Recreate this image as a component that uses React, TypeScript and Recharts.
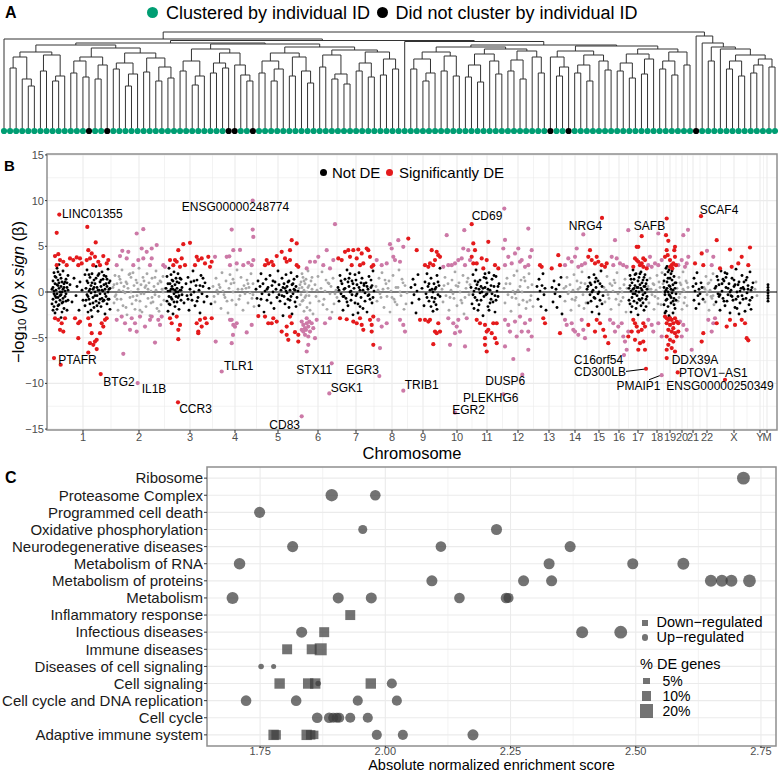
import React from 'react';
import {
  ComposedChart,
  ScatterChart,
  Scatter,
  Line,
  XAxis,
  YAxis,
  CartesianGrid,
  ReferenceLine,
  ReferenceArea,
} from 'recharts';

const FONT = "'Liberation Sans', Arial, Helvetica, sans-serif";
const GREEN = '#009e73';
const RED = '#e41a1c';
const PINK = '#cc79a7';
const GREY = '#a8a8a8';
const BORDER = '#8f8f8f';
const GRID = '#ebebeb';
const POINT = '#3d3d3d';

// ---------- A: hierarchical clustering (node = [merge height, left, right], leaf g = clustered, k = not) ----------
type Node = 'g' | 'k' | [number, Node, Node];
const g = 'g';
const k = 'k';

const cluster3a: Node = [86,
  [79, [74, [63, g, g], [52, g, [45, g, g]]], [76, [60, g, g], [55, [50, g, g], g]]],
  [83, [74, [70, [58, g, g], [54, g, k]], [66, [52, g, g], k]],
    [78, [68, [62, g, g], [57, [45, g, g], g]], [73, [59, g, g], [64, [50, g, g], [53, g, g]]]]]];
const cluster3b: Node = [87,
  [82, [70, [60, g, g], [55, [46, g, g], g]], [78, [68, [58, g, g], [63, g, k]], [66, k, [56, g, [50, g, k]]]]],
  [84, [78, [70, [58, g, g], [62, [50, g, g], g]], [74, [55, g, g], [60, g, [48, g, g]]]],
    [81, [76, [64, g, g], [57, [52, g, g], [47, g, g]]], [79, [68, [60, g, g], [54, g, g]], [72, [56, g, g], [62, g, g]]]]]];
const cluster6: Node = [84,
  [79, [72, [62, g, g], [58, [50, g, g], g]], [75, [60, g, g], [55, g, g]]],
  [82, [77, [66, [54, g, g], [49, g, g]], [70, g, [57, g, g]]], [80, [71, [60, g, g], [52, g, g]], [74, g, [58, g, g]]]]];
const cluster7: Node = [85,
  [80, [74, k, [64, [55, g, g], k]], [76, [66, [58, g, g], [50, g, g]], [70, g, [61, g, g]]]],
  [82, [77, [68, [60, g, g], [53, g, g]], [72, [57, g, g], g]], [79, [70, [62, g, g], [56, g, g]], [66, g, g]]]];
const clusterR: Node = [88, g,
  [84, [70, g, g], [82, g, [76, [70, [62, g, g], [55, g, g]], [72, [66, [58, g, g], g], [64, g, g]]]]]];
const dendrogram: Node = [99,
  [92, g, [90.5, [88, cluster3a, cluster3b], [89.5, g, [86, cluster6, cluster7]]]],
  [95, k, clusterR]];

function layoutDendrogram(root: Node) {
  const links: { x: number; y: number | null }[] = [];
  const leaves: { x: number; y: number; black: boolean }[] = [];
  const walk = (n: Node): { x: number; h: number } => {
    if (!Array.isArray(n)) {
      const i = leaves.length;
      leaves.push({ x: i, y: 0, black: n === 'k' });
      return { x: i, h: 0 };
    }
    const [h, a, b] = n;
    const l = walk(a);
    const r = walk(b);
    links.push({ x: l.x, y: l.h }, { x: l.x, y: h }, { x: r.x, y: h }, { x: r.x, y: r.h }, { x: r.x, y: null });
    return { x: (l.x + r.x) / 2, h };
  };
  walk(root);
  return { links, leaves };
}

// ---------- B: Manhattan plot (x = genome position index, y = -log10(p) * sign(beta)) ----------
const chrLabels = ['1', '2', '3', '4', '5', '6', '7', '8', '9', '10', '11', '12', '13', '14', '15', '16', '17', '18', '19', '20', '21', '22', 'X', 'Y', 'M'];
const chrCenters = [36, 92, 143, 188, 231, 271, 309, 345, 376, 410, 440, 471, 502, 528, 552, 572, 591, 610, 623, 635, 646, 660, 687, 713, 720];

// not DE, odd chromosomes (black)
const blackNotDE = [
  5,0.3, 6,-0.8, 6,1.2, 7,0.1, 7,-1.6, 7,2.1, 8,-0.4, 8,0.9, 8,-2.3, 9,1.6, 9,-1.1, 9,0.2, 10,-0.2, 10,2.6, 10,-1.9, 11,0.7, 11,-0.6, 11,1.3, 12,-1.4, 12,0.4, 12,3.0, 13,-0.9, 13,1.9, 13,0.0, 14,-2.8, 14,0.6, 14,-0.3, 15,1.1, 15,-1.2, 16,0.3, 16,2.3, 16,-0.7, 17,-1.8, 17,0.9, 18,0.1, 18,-0.5, 19,1.4, 19,-1.0, 20,0.5, 20,-2.0, 21,0.2, 21,1.8,
  5,-1.3, 6,0.5, 7,-0.2, 8,1.7, 9,-0.6, 10,0.8, 11,-1.5, 12,1.0, 13,-0.4, 14,1.5, 15,0.0, 16,-1.1, 17,0.5, 18,1.1, 19,-0.2, 20,1.0, 21,-0.9, 6,-2.0, 11,2.2, 15,-2.2,
  23,0.8, 25,-1.1, 27,1.5, 29,-0.4, 30,0.6, 32,-2.0, 33,1.1, 35,0.2, 36,-0.9, 38,1.9, 38,-1.5, 39,0.4, 40,-0.3, 40,2.4, 41,1.0, 41,-2.2, 42,0.1, 42,-0.8, 43,1.6, 43,-1.3, 44,0.7, 44,-0.1, 45,2.0, 45,-2.7, 46,0.3, 46,-0.6, 47,1.3, 47,-1.7, 48,0.0, 48,0.9, 49,-1.0, 49,2.8, 50,0.5, 50,-0.4, 51,1.8, 51,-2.1, 52,0.2, 52,-1.2, 53,1.1, 53,-0.2, 54,0.6, 54,-1.6, 55,2.2, 55,-0.7, 56,0.1, 56,1.4, 57,-0.9, 57,0.8, 58,-2.4, 58,0.3, 59,1.7, 59,-0.5, 60,-1.3, 60,0.6, 61,0.0, 61,2.5, 62,-0.8, 62,1.0, 63,-1.9, 63,0.4,
  39,-0.9, 40,1.2, 41,-0.5, 42,1.9, 43,0.3, 44,-2.0, 45,1.0, 46,-1.2, 47,0.5, 48,-0.4, 49,1.5, 50,-1.5, 51,0.2, 52,2.0, 53,-0.8, 54,1.3, 55,0.2, 56,-1.0, 57,1.8, 58,-0.2, 59,0.9, 60,1.4, 61,-0.8, 62,0.3, 63,1.2,
  119,0.4, 120,-1.0, 120,1.7, 121,0.1, 121,-2.1, 122,2.6, 122,-0.5, 123,0.9, 123,-1.4, 124,0.3, 124,1.9, 125,-0.8, 125,0.6, 126,-2.4, 126,1.2, 127,-0.2, 127,2.2, 128,0.8, 128,-1.6, 129,0.0, 129,1.5, 130,-1.1, 130,0.4, 131,2.0, 131,-0.6, 132,1.0, 132,-1.9, 133,0.2, 134,-0.9, 134,1.4, 135,0.5, 135,-0.3, 137,-1.2, 139,0.9, 140,-0.4, 141,1.6, 142,-2.0, 143,0.3, 144,1.1, 145,-0.9, 146,2.3, 147,0.0, 148,-1.5, 149,0.7, 150,1.3, 151,-0.6, 152,0.2, 153,-2.3, 154,1.8, 155,-0.2, 156,0.6, 157,-1.1, 158,1.0, 160,-0.5, 162,0.4, 164,-1.3,
  121,0.9, 122,-1.3, 123,0.1, 124,-0.6, 125,1.3, 126,0.3, 127,-1.1, 128,0.2, 129,-0.5, 130,1.1, 131,0.0, 132,-0.4, 133,1.5, 134,0.2, 141,-0.8, 144,-0.3, 147,1.2, 150,-1.0, 153,0.7, 156,1.5,
  209,0.3, 210,-0.7, 211,1.2, 212,-1.5, 213,0.6, 214,2.0, 215,-0.2, 216,0.9, 217,-2.2, 218,0.1, 219,1.4, 220,-0.9, 221,0.5, 222,-0.3, 223,1.8, 224,-1.2, 225,0.7, 226,0.0, 227,-1.8, 228,1.1, 229,0.3, 230,-0.6, 231,2.3, 232,0.8, 233,-1.0, 234,0.2, 235,1.5, 235,-0.4, 236,-2.6, 237,0.9, 238,0.4, 238,-1.3, 239,1.9, 240,-0.1, 240,0.6, 241,-0.8, 242,1.2, 242,-1.7, 243,0.2, 244,2.1, 244,-0.5, 245,0.8, 245,-2.4, 246,-0.2, 247,1.4, 247,0.3, 248,-1.1, 249,0.6, 250,-0.6, 250,1.7, 251,0.1,
  236,0.5, 237,-0.5, 239,0.1, 241,1.1, 243,-0.9, 246,0.9, 248,0.2, 249,-1.6, 214,-0.8, 220,0.3, 226,1.2, 232,-0.3,
  291,0.5, 292,-1.0, 293,1.8, 294,-0.2, 295,0.9, 296,-2.0, 297,0.3, 298,1.4, 299,-0.7, 300,2.4, 301,-1.5, 302,0.6, 303,0.0, 304,-0.9, 305,1.2, 306,-2.5, 307,0.4, 308,1.9, 309,-0.4, 310,0.8, 311,-1.3, 312,2.1, 313,0.2, 314,-0.6, 315,1.5, 316,-1.8, 317,0.7, 318,-0.1, 319,1.0, 320,-2.2, 321,0.3, 322,1.7, 323,-0.8, 324,0.5, 325,-1.2, 326,2.3, 327,0.1, 297,-0.5, 301,1.1, 305,-0.3, 309,1.3, 313,-1.6, 317,0.9, 321,-0.4, 325,0.7, 303,2.0, 311,-2.3,
  292,0.2, 294,1.2, 296,-0.5, 298,0.4, 300,-1.1, 302,1.5, 304,0.1, 306,0.9, 308,-1.2, 310,-0.2, 312,0.5, 314,1.0, 316,0.2, 318,-1.0, 320,0.6, 322,-0.3, 324,1.3, 326,-0.6,
  364,0.5, 365,-1.2, 366,1.4, 367,-0.3, 368,0.8, 369,-2.3, 370,0.1, 371,1.9, 372,-0.8, 375,0.4, 377,-1.5, 378,1.1, 379,-0.2, 380,2.0, 381,0.6, 382,-1.0, 383,0.2, 384,1.5, 385,-0.6, 386,-2.1, 387,0.9, 388,0.3, 389,-1.4, 390,1.8, 391,-0.3, 392,0.7, 393,2.6, 386,0.0, 388,-0.7, 384,-1.6,
  380,-0.6, 382,0.9, 385,0.3, 387,-1.1, 389,0.5, 391,1.1, 393,-0.5, 390,-1.9,
  424,0.5, 425,-1.3, 426,1.9, 427,0.1, 428,-0.6, 429,2.4, 430,0.8, 431,-2.0, 432,0.3, 433,1.3, 434,-0.9, 435,0.0, 436,-2.6, 437,1.6, 438,0.5, 439,-0.3, 440,1.0, 441,-1.6, 442,2.1, 443,0.2, 444,-0.8, 445,1.4, 446,-1.1, 447,0.6, 448,-2.2, 449,1.7, 450,0.1, 451,-0.5, 452,0.9, 428,1.2, 432,-1.4, 436,0.4, 440,-0.2, 444,0.7, 448,-0.4, 430,-0.9, 438,2.0,
  426,-0.3, 429,0.4, 431,1.1, 434,0.6, 437,-0.5, 439,1.5, 441,0.3, 443,-1.2, 445,-0.2, 447,1.8, 449,-0.9, 451,0.6, 427,-1.8, 433,-0.1, 442,-2.0,
  490,0.6, 491,-0.8, 492,1.4, 493,0.1, 494,-1.6, 495,0.7, 496,2.0, 497,-0.3, 498,0.4, 499,-2.0, 505,0.5, 506,-1.1, 507,1.2, 508,-0.2, 509,0.3, 510,-1.7, 512,0.8, 513,-0.5, 514,1.6, 515,-2.4,
  540,0.3, 541,-1.2, 542,1.6, 543,-0.3, 544,0.8, 545,-2.2, 546,0.2, 547,1.9, 548,-0.7, 549,0.5, 550,-1.6, 551,1.2, 552,0.0, 553,-0.9, 554,2.3, 555,0.6, 556,-0.4, 544,-1.0, 548,1.1, 552,-2.4,
  541,0.6, 543,1.0, 545,0.0, 547,-0.6, 549,1.5, 551,-0.2, 553,0.9, 555,-1.3,
  582,0.4, 583,-1.3, 583,1.8, 584,0.1, 584,-2.2, 585,1.0, 585,-0.6, 586,2.4, 586,0.3, 587,-1.0, 587,1.4, 588,-0.2, 588,0.7, 589,-1.8, 589,2.0, 590,0.5, 590,-0.4, 591,1.2, 591,-2.5, 592,0.0, 592,1.6, 593,-0.9, 593,0.8, 594,-1.5, 594,2.2, 595,0.2, 595,-0.7, 596,1.3, 596,-1.2, 597,0.6, 597,-2.0, 598,1.9, 598,-0.1, 599,0.9, 599,-1.6, 600,0.3, 600,-0.5,
  582,-0.9, 583,0.7, 584,1.4, 585,-1.6, 586,-0.2, 587,0.4, 588,1.9, 589,0.1, 590,-1.2, 591,0.5, 592,-0.8, 593,2.0, 594,0.4, 595,1.0, 596,-0.3, 597,1.6, 598,0.6, 599,-0.8, 600,1.3,
  617,0.5, 617,-1.4, 618,1.9, 618,-0.3, 619,2.6, 619,0.2, 619,-2.1, 620,1.1, 620,-0.8, 621,0.0, 621,2.2, 621,-1.6, 622,0.7, 622,-2.6, 623,1.5, 623,-0.4, 624,0.3, 624,2.0, 624,-1.2, 625,-0.1, 625,1.3, 626,-2.3, 626,0.8, 627,1.7, 627,-0.7, 628,0.4, 628,-1.8, 629,1.0, 629,-0.2, 620,2.8, 623,-2.8,
  617,1.2, 618,0.0, 619,-0.9, 620,0.4, 621,1.5, 622,-0.3, 623,0.6, 624,-0.6, 625,2.3, 626,0.2, 627,-1.4, 628,1.0, 629,-0.9, 618,-2.3, 622,2.4, 626,-1.0,
  646,0.6, 647,-0.9, 647,1.5, 648,0.1, 649,-1.8, 649,0.9, 650,2.1, 651,-0.4, 652,0.3, 652,-1.3, 654,1.0, 653,-0.2, 655,0.5, 656,-0.8,
  668,0.4, 669,-1.1, 670,1.7, 671,-0.2, 672,0.8, 673,-2.0, 674,2.3, 675,0.1, 676,-0.7, 677,1.2, 678,-1.5, 679,0.5, 680,2.0, 681,-0.3, 682,0.9, 683,-2.3, 684,0.2, 685,1.5, 686,-0.9, 687,0.6, 688,-1.7, 689,2.5, 690,0.0, 691,-0.5, 692,1.1, 693,-1.2, 694,0.4, 695,1.8, 696,-0.8, 697,0.3, 698,-2.1, 699,1.3, 700,-0.1, 701,0.7, 702,-1.4, 703,2.2, 704,0.2, 705,-0.6, 706,1.0, 672,-0.5, 676,1.4, 680,-1.0, 684,-0.4, 688,0.8, 692,-2.4, 696,0.5, 700,1.6, 704,-1.9,
  669,0.6, 671,1.3, 673,-0.3, 675,0.9, 677,-1.0, 679,1.6, 681,0.4, 683,0.0, 685,-0.5, 687,1.3, 689,-0.8, 691,0.8, 693,0.1, 695,-0.4, 697,1.1, 699,-0.7, 701,0.3, 703,-0.9, 705,0.5, 690,-1.8, 678,2.1,
  721,-1.0, 721,-0.7, 721,-0.4, 721,-0.1, 721,0.2, 721,0.5, 721,0.8,
];

// not DE, even chromosomes (grey)
const greyNotDE = [
  66,0.5, 67,-1.2, 68,1.8, 69,-0.3, 70,0.9, 71,-2.0, 72,0.2, 73,1.4, 74,-0.8, 75,2.4, 76,-1.5, 77,0.6, 78,-0.1, 79,1.1, 80,-2.5, 81,0.4, 82,1.9, 83,-0.6, 84,0.0, 85,-1.3, 86,2.1, 87,0.7, 88,-1.9, 89,1.3, 90,-0.4, 91,0.3, 92,2.6, 93,-1.0, 94,0.8, 95,-2.2, 96,1.6, 97,-0.2, 98,0.5, 99,-1.6, 100,2.0, 101,-0.7, 102,1.0, 103,-2.6, 104,0.1, 105,1.5, 106,-1.1, 107,0.6, 108,-0.3, 109,2.3, 110,-1.8, 111,0.9, 112,-0.5, 113,1.2, 114,-1.4, 115,0.3, 116,1.7, 117,-0.9, 118,0.4, 68,-0.5, 74,1.0, 79,-1.7, 84,1.6, 89,-0.9, 94,-0.2, 99,0.7, 104,-1.2, 109,0.2, 114,1.1,
  67,0.8, 70,-0.8, 72,1.7, 76,0.1, 80,0.9, 83,2.0, 86,-0.5, 90,1.0, 93,-2.0, 97,1.2, 101,0.3, 105,-0.6, 108,1.6, 112,-2.1, 116,0.0,
  166,0.6, 168,-1.1, 169,1.5, 171,-0.2, 172,0.8, 174,-1.8, 175,2.1, 176,0.1, 178,-0.6, 179,1.2, 181,-2.3, 182,0.4, 183,1.9, 185,-0.9, 186,0.0, 187,1.0, 189,-1.4, 190,2.4, 191,0.3, 193,-0.4, 194,1.6, 196,-2.0, 197,0.7, 198,-0.2, 200,1.3, 201,-1.2, 202,0.5, 204,2.0, 205,-0.7, 206,0.9, 207,-1.6, 170,0.2, 177,-0.3, 184,0.9, 192,-0.8, 199,0.4, 203,-0.1,
  167,-0.5, 173,0.5, 180,-1.0, 186,1.4, 195,0.3, 201,0.9, 206,-0.3,
  252,0.4, 253,-1.4, 254,1.1, 254,-0.3, 255,2.0, 255,0.5, 256,-0.9, 256,1.6, 257,-2.1, 257,0.2, 258,0.9, 258,-0.6, 259,1.4, 260,-1.7, 260,0.0, 261,2.3, 262,-0.4, 262,0.7, 263,-1.2, 264,1.2, 265,0.3, 266,-2.4, 268,0.8, 269,-0.5, 271,1.7, 272,-1.0, 274,0.4, 275,2.2, 277,-0.8, 278,0.1, 280,-1.9, 281,1.0, 283,-0.2, 284,0.6, 286,1.5, 287,-1.3, 289,0.2, 290,-0.6, 279,1.3, 285,-2.2,
  253,0.8, 255,-1.0, 257,1.2, 259,-0.4, 261,0.5, 263,-2.0, 265,1.6, 270,0.2, 276,-1.4, 282,0.9, 288,-0.2,
  329,0.6, 330,-1.0, 332,1.5, 333,-0.2, 335,2.1, 336,0.3, 337,-1.7, 339,0.9, 340,-0.5, 342,1.2, 343,-2.2, 344,0.1, 346,1.8, 347,-0.8, 349,0.5, 350,-1.4, 352,2.4, 353,0.0, 354,-0.4, 356,1.0, 357,-1.9, 358,0.7, 360,-0.1, 334,-0.6, 341,0.4, 348,-1.1, 355,1.4,
  331,0.2, 338,1.3, 345,-0.6, 351,0.5, 359,-1.3,
  395,0.3, 396,-1.1, 398,1.6, 399,-0.4, 401,0.9, 402,-2.0, 404,0.2, 405,1.3, 407,-0.7, 408,2.2, 410,-1.5, 411,0.6, 413,0.0, 414,-0.9, 416,1.8, 417,-2.4, 419,0.4, 420,1.1, 422,-0.3, 423,0.8, 403,-0.6, 409,0.7, 415,-1.2, 421,1.5,
  397,0.7, 406,-0.2, 412,1.0, 418,-0.6, 424,0.0,
  457,0.4, 458,-1.2, 460,1.5, 461,-0.3, 463,0.9, 464,-2.1, 466,0.1, 467,1.8, 469,-0.7, 470,2.3, 472,-1.4, 473,0.6, 475,0.0, 476,-0.9, 478,1.2, 479,-1.8, 481,0.5, 482,2.0, 484,-0.4, 485,0.8, 468,-0.2, 474,1.3, 480,-1.1, 486,-1.6,
  459,0.9, 465,-0.6, 471,0.2, 477,1.6, 483,-0.9,
  517,0.4, 518,-1.0, 520,1.6, 521,-0.2, 523,0.8, 524,-2.0, 526,0.2, 527,1.9, 529,-0.6, 530,1.2, 532,-1.5, 533,0.5, 535,2.2, 536,-0.3, 538,0.9, 539,-1.2, 522,0.0, 528,-0.9, 534,1.0,
  519,0.6, 525,-0.8, 531,0.3, 537,-1.8,
  557,0.5, 558,-1.1, 560,1.7, 561,-0.3, 563,0.9, 564,-1.9, 566,0.1, 567,1.3, 569,-0.8, 570,2.1, 572,-1.4, 573,0.4, 575,0.0, 576,-0.6, 578,1.4, 579,-2.2, 565,0.7, 571,-0.2, 577,0.8,
  559,0.2, 562,-0.7, 568,1.0, 574,-1.0, 580,0.4,
  601,0.6, 602,-1.2, 603,1.5, 605,-0.3, 606,0.9, 607,-1.9, 609,0.2, 610,1.8, 611,-0.7, 613,0.5, 614,-1.4, 615,2.1, 616,0.0, 604,0.3, 608,-0.5, 612,1.1,
  602,0.3, 607,0.8, 611,-1.3, 616,0.9,
  630,0.4, 631,-1.0, 632,1.6, 633,-0.2, 634,0.8, 635,-1.9, 636,2.2, 637,0.1, 638,-0.6, 639,1.2, 640,-1.5, 641,0.5, 633,1.0, 637,-1.2,
  632,-0.6, 636,0.3, 640,1.0,
  657,0.5, 658,-1.1, 659,1.7, 660,-0.3, 661,0.9, 662,-2.0, 663,0.2, 664,1.3, 665,-0.7, 666,2.0, 667,-1.4, 660,0.0, 664,-0.5,
  658,0.3, 662,1.0, 666,-0.4,
  708,0.3, 710,-0.4, 709,1.1,
];

// significantly DE, odd chromosomes (red)
const redDE = [
  12.3,8.47, 9.7,6.47, 40.3,7.12, 48.7,5.42, 8,3.93, 11.3,4.14, 13,3.49, 9.7,2.94, 16.3,3.31, 23,3.67, 26.3,3.49, 29.7,3.78, 33,3.67, 31.3,2.94, 34.7,3.13, 19.7,2.94, 41.3,4.58, 44.7,4.22, 39.7,3.49, 43,3.67, 48,3.85, 51.3,3.31, 53,2.94, 56.3,3.93, 59.7,3.13, 61.3,3.49, 46.3,2.94,
  8,-2.87, 11.3,-3.05, 14.7,-3.42, 16.3,-4.33, 13,-4.14, 18,-2.87, 28,-2.87, 31.3,-3.42, 33,-3.24, 41.3,-2.87, 43,-3.6, 44.7,-4.51, 43,-5.6, 48,-5.42, 49.7,-5.23, 53,-4.51, 54.7,-3.42, 58,-3.05, 56.3,-3.78, 59.7,-2.87, 31.3,-5.05, 46.3,-5.78, 49.7,-6.25, 41.3,-6.62, 7,-7.23, 13.7,-7.96, 53.7,-8.98,
  136.3,5.23, 143,5.38, 123,3.49, 126.3,2.94, 129.7,3.31, 131.3,4.58, 134.7,3.67, 128,3.49, 133,2.76, 138,2.94, 149.7,3.85, 151.3,3.49, 148,2.94, 154.7,3.67, 158,3.13, 161.3,3.85, 163,2.76, 164.7,3.31,
  123,-2.87, 124.7,-3.42, 129.7,-2.69, 131.3,-4.14, 133,-3.6, 131.3,-5.16, 149.7,-3.42, 151.3,-4.33, 153,-3.05, 158,-2.87, 154.7,-3.78, 159.7,-3.42, 151.3,-4.51, 164.7,-2.87, 131,-12.07,
  244.7,5.67, 249.7,5.31, 234.7,4.4, 229.7,3.93, 218,2.94, 221.3,3.13, 224.7,3.31, 226.3,2.94, 219.7,3.49, 238,3.67, 243,4.58, 243,3.49, 249.7,2.94, 251.3,2.76, 239.7,3.31,
  211.3,-2.63, 218,-2.69, 221.3,-3.42, 226.3,-2.87, 229.7,-3.24, 234.7,-4.33, 239.7,-4.69, 241.3,-5.23, 243,-2.69, 244.7,-3.42, 248,-4.4, 251.3,-4.69, 251.3,-5.42, 239.7,-3.78, 224.7,-3.42,
  291.3,3.67, 294.7,3.49, 298,4.4, 301.3,4.58, 303,3.85, 304.7,2.94, 306.3,4.58, 309.7,3.67, 311.3,4.65, 314.7,4.22, 316.3,3.13, 319.7,4.76, 321.3,4.58, 323,3.85, 326.3,2.94, 324.7,2.76, 313,2.94,
  293,-2.87, 299.7,-2.98, 306.3,-3.24, 309.7,-3.42, 313,-2.87, 314.7,-3.6, 316.3,-4.14, 323,-3.05, 324.7,-3.6, 326.3,-2.69, 324.7,-4.33, 326.3,-5.78,
  361.3,5.85, 369.7,4.58, 378,2.94, 381.3,2.76, 383,3.13, 384.7,4.58, 386.3,2.94, 388,3.49, 389.7,4.4, 391.3,4.03, 393,3.85,
  373,-3.05, 378,-3.05, 381.3,-3.24, 383,-3.05, 388,-4.33, 389.7,-4.51, 391.3,-3.42, 393,-4.33, 386.3,-5.71,
  424.7,7.42, 426.3,5.31, 428,4.58, 424.7,3.85, 426.3,3.13, 429.7,3.13, 434.7,3.67, 436.3,2.58, 439.7,3.49, 441.3,5.49, 448,2.94, 451.3,2.58,
  429.7,-3.05, 433,-3.42, 438,-3.6, 439.7,-4.33, 438,-5.05, 441.3,-4.14, 444.7,-4.51, 446.3,-3.42, 448,-5.05, 449.7,-3.42, 438,-5.78, 439.7,-6.51, 449.7,-5.6,
  493,2.94, 494.7,2.76, 504.7,2.58, 511.3,4.03, 513,2.94, 496.3,-2.87, 498,-3.42, 513,-4.51,
  555,8.1, 543,4.58, 549.7,3.85, 551.3,3.31, 554.7,2.94, 558,2.76, 559.7,3.13, 541.3,3.85, 544.7,3.49, 548,3.13,
  549.7,-3.05, 553,-3.42, 556.3,-4.14, 558,-4.87, 561.3,-5.6, 541.3,-3.6, 548,-4.33,
  594.7,6.11, 589.7,4.94, 591.3,4.94, 588,3.67, 589.7,3.49, 591.3,3.31, 593,2.94, 594.7,3.13, 596.3,3.67, 598,3.49, 586.3,2.76, 599.7,2.58, 596.3,2.76,
  586.3,-3.05, 588,-3.42, 589.7,-3.78, 591.3,-4.33, 594.7,-4.14, 596.3,-3.42, 598,-3.78, 584.7,-4.33, 581.3,-4.87, 588,-5.23, 593,-5.6, 598,-6.32, 591.3,-6.32, 596.3,-5.42, 599,-8.4,
  619.7,8.04, 619,6.22, 621.3,5.6, 619.7,4.58, 618,3.85, 623,3.49, 624.7,2.94, 626.3,3.13, 628,3.85, 628,4.94, 623,2.76, 620.7,4.03, 625.3,2.58, 629,2.94, 627.3,4.58,
  618,-2.69, 619.7,-2.87, 621.3,-3.05, 623,-2.87, 624.7,-3.05, 626.3,-3.42, 628,-2.87, 629.7,-3.24, 619.7,-3.42, 623,-3.6, 626.3,-3.96, 621.3,-4.14, 624.7,-4.33, 628,-4.51, 619.7,-4.87, 623,-5.23, 626.3,-5.42, 629.7,-4.87, 621.3,-5.78, 624.7,-6.14, 628,-6.51, 619.7,-6.32, 631.3,-3.42, 631.3,-4.33, 619.7,-7.23, 630.7,-8.8,
  654,8.3, 654.7,4.22, 656.3,2.94, 648,3.13, 656.3,-4.51, 654.7,-5.42,
  683,4.65, 703,4.87, 673,2.58, 691.3,3.13, 701.3,2.94, 694.7,3.85, 684.7,2.76, 669.7,5.67,
  669.7,-3.42, 679.7,-3.78, 683,-3.05, 688,-3.6, 694.7,-3.05, 698,-3.42, 699.7,-5.05, 701.3,-5.29, 678,-9.6,
];

// significantly DE, even chromosomes (pink)
const pinkDE = [
  75.3,4.51, 79.7,3.67, 81.3,4.4, 69.7,2.94, 73,3.93, 86.3,2.94, 91.3,3.49, 94.7,4.76, 96.3,3.67, 104.7,4.76, 99.7,4.4, 109.7,5.13, 104.7,3.67, 103,2.94, 116.3,2.94, 118,2.76, 89.7,6.4, 96.3,6.87,
  69.7,-3.05, 74.7,-2.69, 78,-3.42, 83,-4.14, 84.7,-2.87, 88,-3.42, 93,-2.69, 98,-3.78, 103,-3.05, 104.7,-2.69, 111.3,-3.05, 113,-3.6, 114.7,-2.69, 76.3,-6.76, 108,-5.53, 89.7,-4.33, 90.7,-9.96,
  205.7,10.0, 184.7,6.83, 205.7,6.83, 206.3,6.03, 179.7,3.85, 168,3.85, 183,2.94, 186.3,4.58, 189.7,3.13, 193,4.6, 196.3,2.94, 201.3,3.2, 204.7,2.94, 206.3,3.49, 182.3,3.9,
  184.7,-3.05, 186.3,-3.6, 184.7,-5.6, 189.7,-3.42, 199.7,-4.42, 204.7,-3.6, 168.7,-5.42, 183,-3.05, 188,-3.8, 186,-4.7, 174.7,-8.7,
  263,3.31, 268,3.31, 259.7,2.58, 286.3,3.49, 288,7.42, 279.7,4.58, 283,2.58, 276.3,2.94, 271.3,3.85,
  254.7,-3.24, 256.3,-3.6, 258,-3.96, 259.7,-3.42, 261.3,-3.78, 263,-4.33, 258,-4.69, 261.3,-4.87, 256.3,-4.33, 259.7,-2.87, 264.7,-3.42, 259,-4.14, 262.3,-3.24, 254.7,-4.14, 266.3,-3.96, 259.7,-6.51, 261.3,-5.78, 268,-5.05, 269.7,-3.05, 278,-3.42, 283,-2.87, 284.7,-7.8, 282.3,-11.1, 254.7,-13.6,
  343,5.23, 351.3,5.67, 344.7,4.76, 346.3,3.85, 334.7,2.94, 339.7,3.13, 348,3.49, 353,3.31, 356.3,4.94, 329.7,3.49,
  331.3,-3.05, 334.7,-3.78, 339.7,-3.42, 353,-3.05, 356.3,-3.6, 358,-4.33, 333,-6.14, 332.3,-9.2, 356.3,-10.8,
  399.7,6.22, 417.3,6.76, 396.3,2.76, 401.3,2.94, 404.7,2.94, 408,3.13, 411.3,3.49, 414.7,3.67, 416.3,4.76, 418,2.94, 421.3,4.58, 423,3.49,
  401.3,-2.87, 406.3,-3.42, 409.7,-3.78, 411.3,-3.05, 413,-4.33, 419.7,-2.87, 408,-4.51, 403,-5.78, 418,-5.96, 408,-13.2,
  457.3,9.13, 481.3,6.94, 458,5.7, 456.3,4.76, 461.3,3.85, 468,4.22, 471.3,4.76, 473,3.31, 474.7,3.49, 478,2.76, 481.3,2.94, 483,3.85, 484.7,4.58, 458,2.94, 464.7,3.13,
  458,-3.05, 461.3,-3.6, 463,-4.33, 468,-3.24, 469.7,-4.87, 473,-2.69, 474.7,-4.33, 478,-3.42, 481.3,-4.33, 483,-3.05, 484.7,-4.87, 481.3,-6.32, 466.3,-7.33, 458,-5.96, 456.3,-11.2, 475.3,-9.05,
  536.3,6.3, 521.3,3.67, 524.7,3.31, 528,3.85, 531.3,2.76, 534.7,2.94, 538,3.13, 518,2.94, 529.7,4.76,
  518,-3.05, 519.7,-3.6, 524.7,-3.42, 526.3,-4.14, 531.3,-4.69, 536.3,-4.14, 538,-5.05, 528,-4.33, 534.7,-3.05,
  581.3,6.76, 568,5.67, 564.7,3.85, 566.3,2.94, 569.7,3.67, 573,3.13, 576.3,2.94, 579.7,2.76,
  563,-3.05, 566.3,-3.42, 568,-4.33, 571.3,-3.78, 576.3,-4.87, 578,-5.42, 579.7,-6.32, 581.3,-4.33, 574.7,-3.42, 577,-6.9,
  611.3,6.4, 601.3,2.94, 604.7,2.76, 608,3.13, 611.3,2.94, 614.7,3.49, 603,3.85, 601.3,-3.05, 604.7,-3.6, 606.3,-4.33, 611.3,-3.42, 614.7,-4.87, 614.7,-9.1,
  636.3,6.22, 641,6.8, 631.3,2.94, 634.7,3.49, 638,2.76, 639.7,3.13, 641.3,3.85, 633,-3.24, 636.3,-3.6, 639.7,-4.14, 634.7,-4.87, 644.7,-6.32,
  664.7,2.94, 666.3,3.85, 660,4.5, 661.3,-3.05, 666.3,-3.42, 668,-2.87, 664.7,-4.33,
];

// gene labels: [name, label x, label y]
const geneLabels: [string, number, number][] = [
  ['LINC01355', 45.3, 8.5], ['ENSG00000248774', 188.5, 9.3], ['CD69', 440, 8.3], ['NRG4', 538.5, 7.23],
  ['SAFB', 602.5, 7.23], ['SCAF4', 672, 8.94], ['PTAFR', 30.5, -7.42], ['BTG2', 72, -9.85], ['IL1B', 107, -10.6],
  ['CCR3', 148.5, -12.8], ['TLR1', 191.7, -8.14], ['CD83', 237.7, -14.5], ['STX11', 267.2, -8.5], ['SGK1', 299.7, -10.5],
  ['EGR3', 315.5, -8.5], ['TRIB1', 374.7, -10.2], ['DUSP6', 458.3, -9.78], ['PLEKHG6', 443.8, -11.55], ['EGR2', 421.5, -12.95],
  ['C16orf54', 551.5, -7.42], ['CD300LB', 553, -8.8], ['PMAIP1', 591.5, -10.3], ['DDX39A', 648, -7.49],
  ['PTOV1\u2212AS1', 666.3, -8.87], ['ENSG00000250349', 673, -10.3],
];
const leaderLines: [number, number, number, number][] = [
  [579, -8.69, 598, -8.43],
  [602, -9.6, 614, -9.1],
];

// ---------- C: pathway enrichment ----------
const pathways = [
  'Ribosome', 'Proteasome Complex', 'Programmed cell death', 'Oxidative phosphorylation', 'Neurodegenerative diseases',
  'Metabolism of RNA', 'Metabolism of proteins', 'Metabolism', 'Inflammatory response', 'Infectious diseases',
  'Immune diseases', 'Diseases of cell signaling', 'Cell signaling', 'Cell cycle and DNA replication', 'Cell cycle',
  'Adaptive immune system',
];
// [pathway, |NES|, % DE genes]
const upRegulated: [string, number, number][] = [
  ['Ribosome', 2.715, 16],
  ['Proteasome Complex', 1.893, 15], ['Proteasome Complex', 1.98, 11],
  ['Programmed cell death', 1.749, 12],
  ['Oxidative phosphorylation', 1.955, 8], ['Oxidative phosphorylation', 2.222, 12],
  ['Neurodegenerative diseases', 1.815, 12], ['Neurodegenerative diseases', 2.111, 11], ['Neurodegenerative diseases', 2.369, 12],
  ['Metabolism of RNA', 1.709, 13], ['Metabolism of RNA', 2.327, 12], ['Metabolism of RNA', 2.494, 12], ['Metabolism of RNA', 2.595, 14],
  ['Metabolism of proteins', 2.093, 12], ['Metabolism of proteins', 2.276, 12], ['Metabolism of proteins', 2.332, 12],
  ['Metabolism of proteins', 2.65, 14], ['Metabolism of proteins', 2.672, 14], ['Metabolism of proteins', 2.691, 14], ['Metabolism of proteins', 2.727, 16],
  ['Metabolism', 1.695, 14], ['Metabolism', 1.906, 12], ['Metabolism', 1.972, 12], ['Metabolism', 2.148, 11], ['Metabolism', 2.241, 11], ['Metabolism', 2.246, 10],
  ['Infectious diseases', 1.833, 12], ['Infectious diseases', 2.393, 14], ['Infectious diseases', 2.47, 16],
  ['Diseases of cell signaling', 1.752, 3], ['Diseases of cell signaling', 1.777, 2.5],
  ['Cell signaling', 1.866, 3], ['Cell signaling', 2.013, 10],
  ['Cell cycle and DNA replication', 1.722, 11], ['Cell cycle and DNA replication', 1.822, 11], ['Cell cycle and DNA replication', 1.945, 10], ['Cell cycle and DNA replication', 2.023, 10],
  ['Cell cycle', 1.864, 11], ['Cell cycle', 1.888, 11], ['Cell cycle', 1.896, 10], ['Cell cycle', 1.903, 10], ['Cell cycle', 1.908, 10], ['Cell cycle', 1.93, 10], ['Cell cycle', 1.965, 10],
  ['Adaptive immune system', 1.983, 10], ['Adaptive immune system', 2.035, 10], ['Adaptive immune system', 2.175, 12],
];
const downRegulated: [string, number, number][] = [
  ['Inflammatory response', 1.93, 11],
  ['Infectious diseases', 1.878, 11],
  ['Immune diseases', 1.804, 11], ['Immune diseases', 1.853, 11], ['Immune diseases', 1.871, 16],
  ['Cell signaling', 1.789, 12], ['Cell signaling', 1.846, 12], ['Cell signaling', 1.86, 12], ['Cell signaling', 1.971, 12],
  ['Adaptive immune system', 1.777, 12], ['Adaptive immune system', 1.782, 10], ['Adaptive immune system', 1.843, 12],
  ['Adaptive immune system', 1.851, 10], ['Adaptive immune system', 1.858, 8],
];
const nesTicks = [1.75, 2.0, 2.25, 2.5, 2.75];
const nesMinor = [1.875, 2.125, 2.375, 2.625];
const legendPct = [5, 10, 20];

const pairs = (flat: number[]) => {
  const out: { x: number; y: number }[] = [];
  for (let i = 0; i + 1 < flat.length; i += 2) out.push({ x: flat[i], y: flat[i + 1] });
  return out;
};
const rowOf = (p: string) => pathways.length - pathways.indexOf(p);
const toPathwayPts = (rows: [string, number, number][]) => rows.map(([p, x, pct]) => ({ x, y: rowOf(p), pct }));
const circleD = (pct: number) => 3.2 * Math.sqrt(pct);
const squareS = (pct: number) => 3.0 * Math.sqrt(pct);
const minus = (v: number) => (v < 0 ? `\u2212${Math.abs(v)}` : `${v}`);

const dot = (r: number, fill: string) => (p: any) => <circle cx={p.cx} cy={p.cy} r={r} fill={fill} />;

const Txt = ({ x, y, size, children, bold = false, anchor = 'start', color = '#000', lh = 1 }: any) => (
  <div
    style={{
      position: 'absolute',
      left: x,
      top: y,
      transform: `translate(${anchor === 'middle' ? '-50%' : '0'}, -50%)`,
      fontSize: size,
      fontWeight: bold ? 700 : 400,
      lineHeight: lh,
      whiteSpace: 'nowrap',
      color,
    }}
  >
    {children}
  </div>
);

const Key = ({ x, y, d, color, square = false, opacity = 1 }: any) => (
  <div
    style={{
      position: 'absolute',
      left: x - d / 2,
      top: y - d / 2,
      width: d,
      height: d,
      borderRadius: square ? 0 : '50%',
      background: color,
      opacity,
    }}
  />
);

export default function App() {
  const dendro = layoutDendrogram(dendrogram);
  const majorY = [-15, -10, -5, 0, 5, 10, 15];
  const minorY = [-12.5, -7.5, -2.5, 2.5, 7.5, 12.5];
  const minorX = chrCenters.slice(1).map((c, i) => (c + chrCenters[i]) / 2);
  const rows = pathways.map((_, i) => i + 1);
  const upPts = toPathwayPts(upRegulated);
  const downPts = toPathwayPts(downRegulated);
  const pctRowsY = [681, 696, 711];

  return (
    <div style={{ position: 'absolute', left: 0, top: 0, width: 778, height: 772, background: '#fff', fontFamily: FONT, overflow: 'hidden' }}>
      {/* Panel A */}
      <Txt x={5} y={12.5} size={16} bold>A</Txt>
      <Key x={152.5} y={12.5} d={11.5} color={GREEN} />
      <Txt x={166} y={12.5} size={18}>Clustered by individual ID</Txt>
      <Key x={382.5} y={12.5} d={11.5} color="#000" />
      <Txt x={395.5} y={12.5} size={18}>Did not cluster by individual ID</Txt>
      <div style={{ position: 'absolute', left: 0, top: 25 }}>
        <ComposedChart width={778} height={115} margin={{ top: 0, right: 0, bottom: 0, left: 0 }}>
          <XAxis type="number" dataKey="x" domain={[-0.66, 127.49]} hide allowDataOverflow />
          <YAxis type="number" dataKey="y" domain={[-9, 106]} hide allowDataOverflow />
          <Line data={dendro.links} dataKey="y" stroke="#333" strokeWidth={1} dot={false} connectNulls={false} isAnimationActive={false} />
          <Scatter
            data={dendro.leaves}
            isAnimationActive={false}
            shape={(p: any) => <circle cx={p.cx} cy={p.cy} r={3.1} fill={p.payload.black ? '#000' : GREEN} />}
          />
        </ComposedChart>
      </div>

      {/* Panel B */}
      <Txt x={4} y={165} size={15} bold>B</Txt>
      <svg width={36} height={300} style={{ position: 'absolute', left: 0, top: 142 }}>
        <text transform="translate(18,150) rotate(-90)" textAnchor="middle" dominantBaseline="central" fontSize={16.5} fill="#000">
          <tspan>{'\u2212log'}</tspan>
          <tspan dy={4} fontSize={11.5}>10</tspan>
          <tspan dy={-4}>{' ('}</tspan>
          <tspan fontStyle="italic">p</tspan>
          <tspan>{') x '}</tspan>
          <tspan fontStyle="italic">sign</tspan>
          <tspan>{' (\u03b2)'}</tspan>
        </text>
      </svg>
      <div style={{ position: 'absolute', left: 0, top: 140 }}>
        <ScatterChart width={778} height={305} margin={{ top: 14, right: 1, bottom: 0, left: 0 }}>
          <CartesianGrid stroke={GRID} strokeWidth={0.6} horizontalValues={minorY} verticalValues={minorX} />
          <CartesianGrid stroke={GRID} strokeWidth={1.1} horizontalValues={majorY} verticalValues={chrCenters} />
          <XAxis
            type="number"
            dataKey="x"
            domain={[0, 730]}
            allowDataOverflow
            ticks={chrCenters}
            interval={0}
            tickFormatter={(v: number) => chrLabels[chrCenters.indexOf(v)]}
            axisLine={false}
            tickSize={3}
            tickMargin={0}
            tickLine={{ stroke: '#333' }}
            tick={{ fontSize: 11, fill: '#4d4d4d' }}
            height={15}
          />
          <YAxis
            type="number"
            dataKey="y"
            domain={[-15.1, 15.1]}
            allowDataOverflow
            ticks={majorY}
            interval={0}
            tickFormatter={minus}
            axisLine={false}
            tickSize={2}
            tickMargin={1}
            tickLine={{ stroke: '#333' }}
            tick={{ fontSize: 11, fill: '#4d4d4d' }}
            width={47}
          />
          <Scatter data={pairs(greyNotDE)} shape={dot(1.45, GREY)} isAnimationActive={false} />
          <Scatter data={pairs(blackNotDE)} shape={dot(1.45, '#000')} isAnimationActive={false} />
          <Scatter data={pairs(pinkDE)} shape={dot(2.1, PINK)} isAnimationActive={false} />
          <Scatter data={pairs(redDE)} shape={dot(2.1, RED)} isAnimationActive={false} />
          <ReferenceLine y={0} stroke="#000" strokeWidth={1} />
          {leaderLines.map(([x1, y1, x2, y2], i) => (
            <ReferenceLine key={i} segment={[{ x: x1, y: y1 }, { x: x2, y: y2 }]} stroke="#000" strokeWidth={1} />
          ))}
          <Scatter
            data={geneLabels.map(([name, x, y]) => ({ x, y, name }))}
            isAnimationActive={false}
            shape={(p: any) => (
              <text x={p.cx} y={p.cy} textAnchor="middle" dominantBaseline="central" fontSize={12} fill="#000">
                {p.payload.name}
              </text>
            )}
          />
          <ReferenceArea x1={0} x2={730} y1={-15.1} y2={15.1} fill="none" stroke={BORDER} strokeWidth={1.5} />
        </ScatterChart>
      </div>
      <Key x={323} y={172.3} d={7} color="#000" />
      <Txt x={332} y={172.3} size={15}>Not DE</Txt>
      <Key x={389.5} y={172.3} d={7.5} color={RED} />
      <Txt x={399} y={172.3} size={15}>Significantly DE</Txt>
      <Txt x={412} y={453} size={16.5} anchor="middle">Chromosome</Txt>

      {/* Panel C */}
      <Txt x={5} y={478} size={16} bold>C</Txt>
      <div style={{ position: 'absolute', left: 0, top: 460 }}>
        <ScatterChart width={778} height={298} margin={{ top: 7, right: 2, bottom: 0, left: 0 }}>
          <CartesianGrid stroke={GRID} strokeWidth={0.6} horizontal={false} verticalValues={nesMinor} />
          <CartesianGrid stroke={GRID} strokeWidth={1.1} horizontalValues={rows} verticalValues={nesTicks} />
          <XAxis
            type="number"
            dataKey="x"
            domain={[1.644, 2.78]}
            allowDataOverflow
            ticks={nesTicks}
            interval={0}
            tickFormatter={(v: number) => v.toFixed(2)}
            axisLine={false}
            tickSize={2}
            tickMargin={-1}
            tickLine={{ stroke: '#333' }}
            tick={{ fontSize: 11, fill: '#4d4d4d' }}
            height={12}
          />
          <YAxis
            type="number"
            dataKey="y"
            domain={[0.35, 16.65]}
            allowDataOverflow
            ticks={rows}
            interval={0}
            tickFormatter={(v: number) => pathways[pathways.length - v]}
            axisLine={false}
            tickSize={3}
            tickMargin={1}
            tickLine={{ stroke: '#333' }}
            tick={{ fontSize: 15, fill: '#1a1a1a' }}
            width={207}
          />
          <Scatter
            data={downPts}
            isAnimationActive={false}
            shape={(p: any) => {
              const s = squareS(p.payload.pct);
              return <rect x={p.cx - s / 2} y={p.cy - s / 2} width={s} height={s} fill={POINT} fillOpacity={0.72} />;
            }}
          />
          <Scatter
            data={upPts}
            isAnimationActive={false}
            shape={(p: any) => <circle cx={p.cx} cy={p.cy} r={circleD(p.payload.pct) / 2} fill={POINT} fillOpacity={0.72} />}
          />
          <ReferenceArea x1={1.644} x2={2.78} y1={0.35} y2={16.65} fill="none" stroke={BORDER} strokeWidth={1.5} />
        </ScatterChart>
      </div>
      <Key x={645} y={623} d={6.5} color={POINT} square opacity={0.72} />
      <Txt x={656.5} y={623} size={14.5} lh={0.92}>{'Down\u2212regulated'}</Txt>
      <Key x={645} y={637.5} d={6.5} color={POINT} opacity={0.72} />
      <Txt x={656.5} y={637.5} size={14.5} lh={0.92}>{'Up\u2212regulated'}</Txt>
      <Txt x={640} y={663.5} size={14.5}>% DE genes</Txt>
      {legendPct.map((pct, i) => (
        <React.Fragment key={pct}>
          <Key x={646.5} y={pctRowsY[i]} d={squareS(pct)} color={POINT} square opacity={0.72} />
          <Txt x={662.5} y={pctRowsY[i]} size={14} lh={0.9}>{`${pct}%`}</Txt>
        </React.Fragment>
      ))}
      <Txt x={491.5} y={765} size={14.5} anchor="middle">Absolute normalized enrichment score</Txt>
    </div>
  );
}
